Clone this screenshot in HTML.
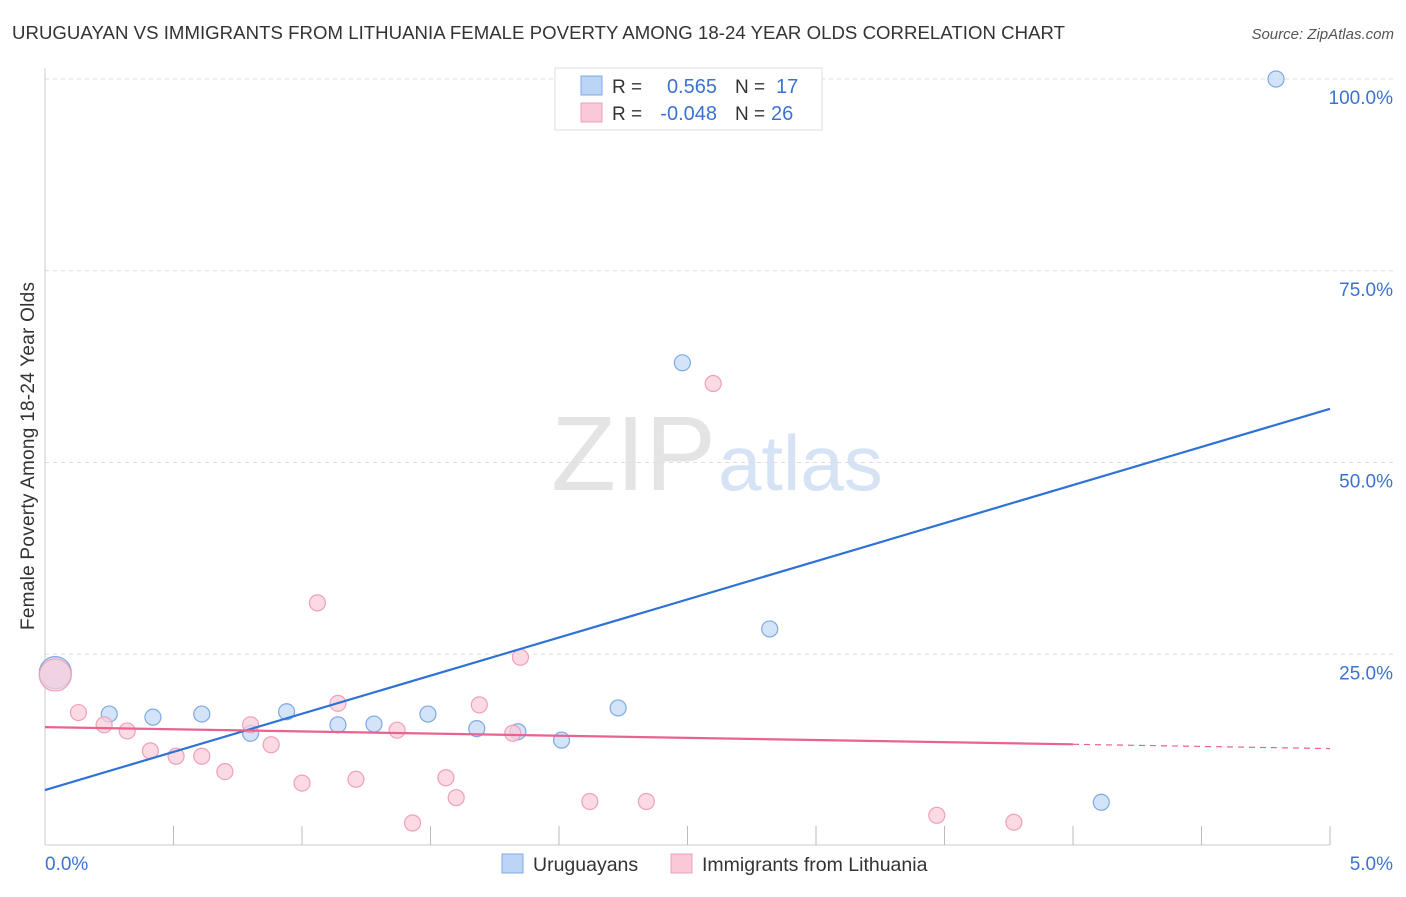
<!DOCTYPE html>
<html><head><meta charset="utf-8"><style>
body{margin:0;background:#fff;font-family:"Liberation Sans",sans-serif;}
svg text{font-family:"Liberation Sans",sans-serif;}
</style></head><body>
<svg id="chart" width="1406" height="892">
<text x="12" y="39" font-size="18.6" fill="#333" textLength="1053">URUGUAYAN VS IMMIGRANTS FROM LITHUANIA FEMALE POVERTY AMONG 18-24 YEAR OLDS CORRELATION CHART</text>
<text x="1394" y="39" font-size="15" fill="#555" font-style="italic" text-anchor="end">Source: ZipAtlas.com</text>
<text x="716" y="490" font-size="106" fill="#e4e4e4" font-family="Liberation Serif" text-anchor="end">ZIP</text>
<text x="718" y="490" font-size="78" fill="#d6e3f5">atlas</text>
<text transform="translate(34,456) rotate(-90)" font-size="19" fill="#333" text-anchor="middle" textLength="348">Female Poverty Among 18-24 Year Olds</text>
<g id="grid"></g><g id="marks"></g>
<g>
<rect x="555" y="68" width="267" height="62" fill="#fff" stroke="#ddd"/>
<rect x="581" y="76" width="21" height="19" fill="#bcd4f5" stroke="#7ea8e6"/>
<rect x="581" y="103" width="21" height="19" fill="#f9c9d8" stroke="#f0a0ba"/>
<text x="612" y="93" font-size="19" fill="#333">R =</text><text x="717" y="93" font-size="20" fill="#3b73d1" text-anchor="end">0.565</text>
<text x="735" y="93" font-size="19" fill="#333">N =</text><text x="776" y="93" font-size="20" fill="#3b73d1">17</text>
<text x="612" y="120" font-size="19" fill="#333">R =</text><text x="717" y="120" font-size="20" fill="#3b73d1" text-anchor="end">-0.048</text>
<text x="735" y="120" font-size="19" fill="#333">N =</text><text x="771" y="120" font-size="20" fill="#3b73d1">26</text>
</g>
<g>
<rect x="502" y="854" width="21" height="19" fill="#bcd4f5" stroke="#7ea8e6"/>
<text x="533" y="871" font-size="19.5" fill="#333">Uruguayans</text>
<rect x="671" y="854" width="21" height="19" fill="#f9c9d8" stroke="#f0a0ba"/>
<text x="702" y="871" font-size="19.5" fill="#333">Immigrants from Lithuania</text>
</g>
</svg>
<script>
const blueX=[0.04,0.25,0.42,0.61,0.80,0.94,1.14,1.28,1.49,1.68,1.84,2.01,2.23,2.48,2.82,4.11,4.79];
const blueY=[22.6,17.2,16.8,17.2,14.7,17.5,15.8,15.9,17.2,15.3,14.9,13.8,18.0,63.0,28.3,5.7,100];
const pinkX=[0.04,0.13,0.23,0.32,0.41,0.51,0.61,0.70,0.80,0.88,1.00,1.06,1.14,1.21,1.37,1.43,1.56,1.60,1.69,1.82,1.85,2.12,2.34,2.60,3.47,3.77];
const pinkY=[22.3,17.4,15.8,15.0,12.4,11.7,11.7,9.7,15.8,13.2,8.2,31.7,18.6,8.7,15.1,3.0,8.9,6.3,18.4,14.7,24.6,5.8,5.8,60.3,4.0,3.1];
const blueLine=[7.3,57.0];
const pinkLine=[15.5,12.7];
const pinkSolidEnd=4.0;
const yTicks=[25,50,75,100];
const xTickLabels=["0.0%","5.0%"];
const NS="http://www.w3.org/2000/svg";
const sx=v=>45+v/5*1285, sy=v=>846-v*7.67;
function mk(t,a,p){const e=document.createElementNS(NS,t);for(const k in a)e.setAttribute(k,a[k]);p.appendChild(e);return e;}
const g=document.getElementById('grid'),m=document.getElementById('marks');
yTicks.forEach(v=>{
 const l=mk('line',{x1:45,x2:1394,y1:sy(v),y2:sy(v),stroke:'#ddd','stroke-dasharray':'4,4'},g);
 
 
 const t=mk('text',{x:1393,y:sy(v)+25,'font-size':19,fill:'#3b73d1','text-anchor':'end'},g);t.textContent=v.toFixed(1)+'%';
 
 
});
const ax=mk('line',{x1:45,x2:45,y1:68,y2:845,stroke:'#ccc'},g);


const bx=mk('line',{x1:45,x2:1330,y1:845,y2:845,stroke:'#ccc'},g);


for(let i=1;i<=10;i++){const l=mk('line',{x1:sx(i*0.5),x2:sx(i*0.5),y1:826,y2:845,stroke:'#bbb'},g);
 
 }
[[0,45,'start'],[1,1393,'end']].forEach(([i,x,a])=>{const t=mk('text',{x:x,y:870,'font-size':19,fill:'#3b73d1','text-anchor':a},g);t.textContent=xTickLabels[i];
 
 });
function pts(X,Y,fill,stroke,name){X.forEach((x,i)=>{const c=mk('circle',{cx:sx(x),cy:sy(Y[i]),r:i==0?16:8,fill:fill,stroke:stroke,'stroke-width':1.2,'fill-opacity':0.75},m);
 
 });}
pts(blueX,blueY,'#c4d9f5','#7ea8e6','uruguayan-point');
pts(pinkX,pinkY,'#f9cddb','#f0a0ba','lithuania-point');
const bl=mk('line',{x1:sx(0),y1:sy(blueLine[0]),x2:sx(5),y2:sy(blueLine[1]),stroke:'#2f72d6','stroke-width':2.2},m);


const pe=pinkLine[0]+(pinkLine[1]-pinkLine[0])*pinkSolidEnd/5;
const pl=mk('line',{x1:sx(0),y1:sy(pinkLine[0]),x2:sx(pinkSolidEnd),y2:sy(pe),stroke:'#e8638f','stroke-width':2.2},m);


const pd=mk('line',{x1:sx(pinkSolidEnd),y1:sy(pe),x2:sx(5),y2:sy(pinkLine[1]),stroke:'#e8638f','stroke-width':1.2,'stroke-dasharray':'6,5'},m);


</script>
</body></html>
